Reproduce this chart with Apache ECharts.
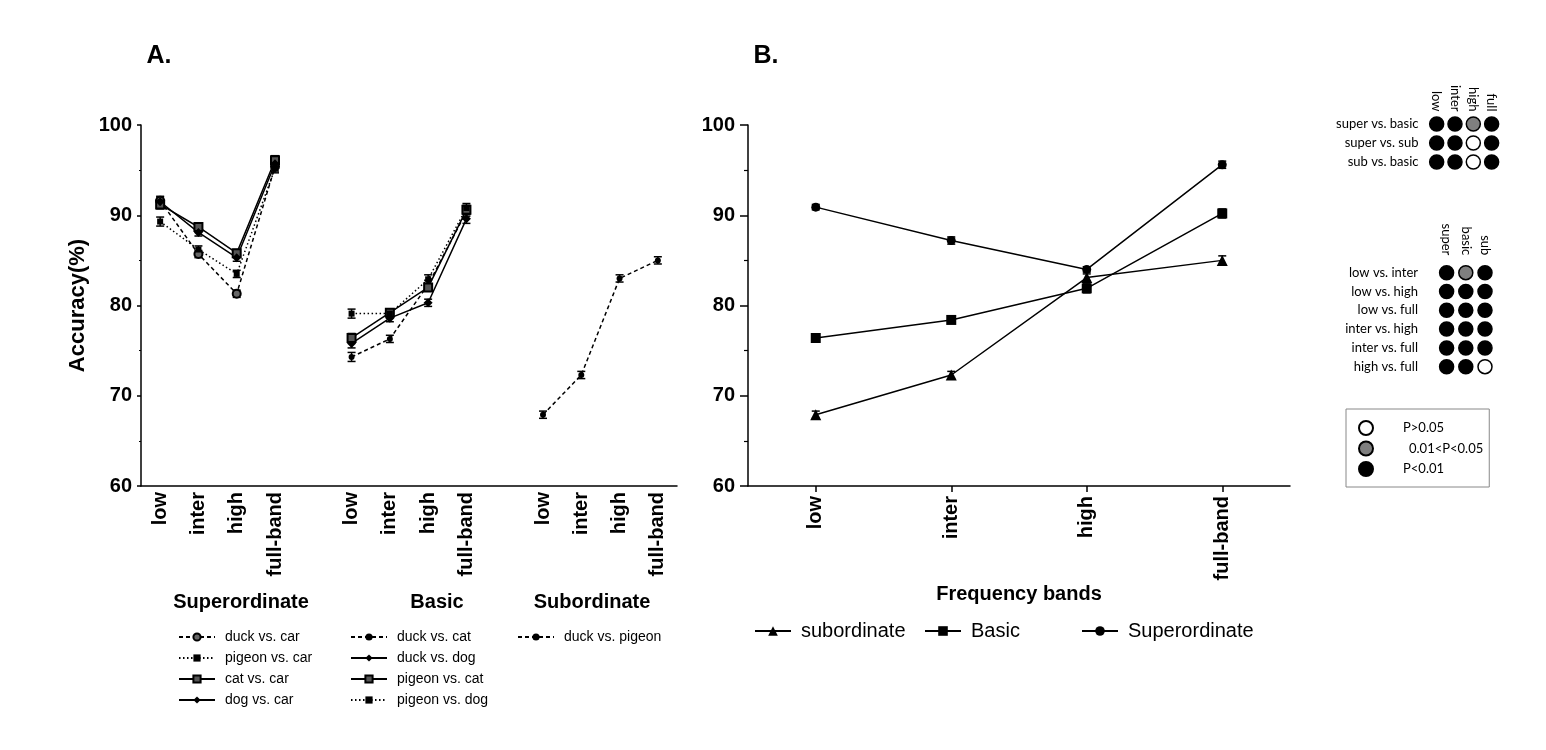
<!DOCTYPE html>
<html>
<head>
<meta charset="utf-8">
<script src="https://cdn.jsdelivr.net/npm/echarts@6/dist/echarts.min.js"></script>
<style>
html, body { margin: 0; padding: 0; background: #fff; }
#main { width: 1546px; height: 750px; }
</style>
</head>
<body>
<div id="main"></div>
<script>
/** data **/
var bands = ['low', 'inter', 'high', 'full-band'];
var groups = ['Superordinate', 'Basic', 'Subordinate'];

// A. superordinate pairs
var duckCar = [91.6, 85.7, 81.3, 95.4];
var pigeonCar = [89.3, 86.2, 83.5, 95.2];
var catCar = [91.2, 88.7, 85.8, 96.1];
var dogCar = [91.5, 88.1, 85.3, 95.7];
// A. basic pairs
var duckCat = [74.3, 76.3, 82.3, 90.4];
var duckDog = [75.8, 78.6, 80.3, 89.6];
var pigeonCat = [76.4, 79.2, 82.0, 90.6];
var pigeonDog = [79.1, 79.1, 82.9, 90.8];
// A. subordinate pair
var duckPigeon = [67.9, 72.3, 83.0, 85.0];

// A. error (sem)
var duckCarErr = [0.5, 0.4, 0.4, 0.5];
var pigeonCarErr = [0.5, 0.4, 0.4, 0.5];
var catCarErr = [0.5, 0.4, 0.4, 0.5];
var dogCarErr = [0.5, 0.4, 0.4, 0.5];
var duckCatErr = [0.5, 0.4, 0.5, 0.5];
var duckDogErr = [0.5, 0.4, 0.4, 0.5];
var pigeonCatErr = [0.5, 0.4, 0.4, 0.5];
var pigeonDogErr = [0.5, 0.4, 0.5, 0.5];
var duckPigeonErr = [0.4, 0.4, 0.4, 0.4];

// B. mean per level
var superB = [90.9, 87.2, 84.0, 95.6];
var basicB = [76.4, 78.4, 81.9, 90.2];
var subB = [67.9, 72.3, 83.1, 85.0];
var superBErr = [0.3, 0.4, 0.3, 0.4];
var basicBErr = [0.4, 0.3, 0.5, 0.5];
var subBErr = [0.4, 0.4, 0.4, 0.5];

// significance tables: 2 = P<0.01, 1 = 0.01<P<0.05, 0 = P>0.05
var sigNames = ['P>0.05', '0.01<P<0.05', 'P<0.01'];
var sigColors = ['#ffffff', '#7f7f7f', '#000000'];
var levelCols = ['low', 'inter', 'high', 'full'];
var levelRows = ['super vs. basic', 'super vs. sub', 'sub vs. basic'];
var levelSig = [[2, 2, 1, 2], [2, 2, 0, 2], [2, 2, 0, 2]];
var bandCols = ['super', 'basic', 'sub'];
var bandRows = ['low vs. inter', 'low vs. high', 'low vs. full', 'inter vs. high', 'inter vs. full', 'high vs. full'];
var bandSig = [[2, 1, 2], [2, 2, 2], [2, 2, 2], [2, 2, 2], [2, 2, 2], [2, 2, 0]];

var FONT = '"Liberation Sans", Arial, sans-serif';
var FONT2 = 'Lato, "Liberation Sans", sans-serif';

/** helpers **/
// panel A uses 14 slots: 4 bands, gap, 4 bands, gap, 4 bands
var catsA = [];
groups.forEach(function(g, gi) {
  bands.forEach(function(b) { catsA.push(b); });
  if (gi < 2) catsA.push(gi ? '  ' : ' ');
});

function slotA(vals, g) {
  var d = [];
  for (var i = 0; i < 14; i++) d.push('-');
  vals.forEach(function(v, i) { d[g * 5 + i] = v; });
  return d;
}

function errData(vals, err, off) {
  return vals.map(function(v, i) { return [off + i, v - err[i], v + err[i]]; });
}

function errSeries(ax, data) {
  return {
    type: 'custom',
    xAxisIndex: ax,
    yAxisIndex: ax,
    silent: true,
    z: 3,
    renderItem: function(params, api) {
      var x = api.value(0);
      var lo = api.coord([x, api.value(1)]);
      var hi = api.coord([x, api.value(2)]);
      var w = 4;
      var st = { stroke: '#000', lineWidth: 1.5 };
      return {
        type: 'group',
        children: [
          { type: 'line', shape: { x1: lo[0], y1: lo[1], x2: hi[0], y2: hi[1] }, style: st },
          { type: 'line', shape: { x1: lo[0] - w, y1: lo[1], x2: lo[0] + w, y2: lo[1] }, style: st },
          { type: 'line', shape: { x1: hi[0] - w, y1: hi[1], x2: hi[0] + w, y2: hi[1] }, style: st }
        ]
      };
    },
    data: data
  };
}

var DASH = [4, 3];
var DOT = [1.5, 2.5];

function lineA(name, vals, g, dash, symbol, size, fill, bw) {
  return {
    name: name,
    type: 'line',
    xAxisIndex: 0,
    yAxisIndex: 0,
    data: slotA(vals, g),
    symbol: symbol,
    symbolSize: size,
    lineStyle: { color: '#000', width: 1.5, type: dash },
    itemStyle: { color: fill, borderColor: '#000', borderWidth: bw },
    z: 4
  };
}

function lineB(name, vals, symbol, size) {
  return {
    name: name,
    type: 'line',
    xAxisIndex: 1,
    yAxisIndex: 1,
    data: vals,
    symbol: symbol,
    symbolSize: size,
    lineStyle: { color: '#000', width: 1.5 },
    itemStyle: { color: '#000' },
    z: 4
  };
}

function sigSeries(table, ax) {
  var out = [];
  sigNames.forEach(function(n, lvl) {
    var pts = [];
    table.forEach(function(row, r) {
      row.forEach(function(s, c) { if (s === lvl) pts.push([c, r]); });
    });
    out.push({
      name: n,
      type: 'scatter',
      xAxisIndex: ax,
      yAxisIndex: ax,
      symbol: 'circle',
      symbolSize: 14,
      itemStyle: { color: sigColors[lvl], borderColor: '#000', borderWidth: 1.5, opacity: 1 },
      data: pts
    });
  });
  return out;
}

/** series **/
var series = [
  lineA('duck vs. car', duckCar, 0, DASH, 'circle', 8, '#666', 2),
  lineA('pigeon vs. car', pigeonCar, 0, DOT, 'rect', 6, '#000', 0),
  lineA('cat vs. car', catCar, 0, 'solid', 'rect', 8, '#555', 2),
  lineA('dog vs. car', dogCar, 0, 'solid', 'diamond', 9, '#000', 0),
  lineA('duck vs. cat', duckCat, 1, DASH, 'circle', 6, '#000', 0),
  lineA('duck vs. dog', duckDog, 1, 'solid', 'diamond', 9, '#000', 0),
  lineA('pigeon vs. cat', pigeonCat, 1, 'solid', 'rect', 8, '#555', 2),
  lineA('pigeon vs. dog', pigeonDog, 1, DOT, 'rect', 6, '#000', 0),
  lineA('duck vs. pigeon', duckPigeon, 2, DASH, 'circle', 6, '#000', 0),
  errSeries(0, [].concat(
    errData(duckCar, duckCarErr, 0), errData(pigeonCar, pigeonCarErr, 0),
    errData(catCar, catCarErr, 0), errData(dogCar, dogCarErr, 0),
    errData(duckCat, duckCatErr, 5), errData(duckDog, duckDogErr, 5),
    errData(pigeonCat, pigeonCatErr, 5), errData(pigeonDog, pigeonDogErr, 5),
    errData(duckPigeon, duckPigeonErr, 10))),
  lineB('subordinate', subB, 'triangle', 11),
  lineB('Basic', basicB, 'rect', 10),
  lineB('Superordinate', superB, 'circle', 9),
  errSeries(1, [].concat(
    errData(subB, subBErr, 0), errData(basicB, basicBErr, 0), errData(superB, superBErr, 0)))
].concat(sigSeries(levelSig, 2), sigSeries(bandSig, 3));

/** axes **/
function valAxis(gi, tickLen, minorLen, name) {
  return {
    type: 'value',
    gridIndex: gi,
    min: 60,
    max: 100,
    interval: 10,
    name: name,
    nameLocation: 'middle',
    nameGap: 52,
    nameTextStyle: { fontFamily: FONT, fontWeight: 'bold', fontSize: 22, color: '#000' },
    axisLine: { show: true, lineStyle: { color: '#000', width: 1.5 } },
    axisTick: { show: true, length: tickLen, lineStyle: { color: '#000', width: 1.5 } },
    minorTick: { show: true, splitNumber: 2, length: minorLen, lineStyle: { color: '#000', width: 1.2 } },
    splitLine: { show: false },
    axisLabel: { fontFamily: FONT, fontWeight: 'bold', fontSize: 20, color: '#000', margin: tickLen + 5 }
  };
}

function tableX(gi, cols, margin) {
  return {
    type: 'category',
    gridIndex: gi,
    position: 'top',
    data: cols,
    axisLine: { show: false },
    axisTick: { show: false },
    axisLabel: { rotate: 90, interval: 0, fontFamily: FONT2, fontSize: 13, color: '#000', margin: margin }
  };
}

function tableY(gi, rows, margin) {
  return {
    type: 'category',
    gridIndex: gi,
    inverse: true,
    data: rows,
    axisLine: { show: false },
    axisTick: { show: false },
    axisLabel: { interval: 0, fontFamily: FONT2, fontSize: 13, color: '#000', margin: margin }
  };
}

function title(text, x, y, size) {
  return {
    text: text,
    left: x,
    top: y,
    textAlign: 'center',
    padding: 0,
    textStyle: { fontFamily: FONT, fontWeight: 'bold', fontSize: size, color: '#000' }
  };
}

function legendA(names, x) {
  return {
    left: x,
    top: 630,
    orient: 'vertical',
    padding: 0,
    itemWidth: 36,
    itemHeight: 9,
    itemGap: 7,
    textStyle: { fontFamily: FONT, fontSize: 14, color: '#000', padding: [0, 0, 0, 5] },
    data: names
  };
}

function legendB(name, x) {
  return {
    left: x,
    top: 621,
    padding: 0,
    itemWidth: 36,
    itemHeight: 12,
    textStyle: { fontFamily: FONT, fontSize: 20, lineHeight: 20, color: '#000', padding: [0, 0, 0, 5] },
    data: [name]
  };
}

var option = {
  animation: false,
  backgroundColor: '#fff',
  title: [
    title('A.', 159, 44, 25),
    title('B.', 766, 44, 25),
    title(groups[0], 241, 592, 20),
    title(groups[1], 437, 592, 20),
    title(groups[2], 592, 592, 20)
  ],
  legend: [
    legendA(['duck vs. car', 'pigeon vs. car', 'cat vs. car', 'dog vs. car'], 178),
    legendA(['duck vs. cat', 'duck vs. dog', 'pigeon vs. cat', 'pigeon vs. dog'], 350),
    legendA(['duck vs. pigeon'], 517),
    legendB('subordinate', 754),
    legendB('Basic', 924),
    legendB('Superordinate', 1081),
    {
      left: 1346,
      top: 409,
      orient: 'vertical',
      padding: [11, 6, 10, 12],
      borderColor: '#888',
      borderWidth: 1,
      itemWidth: 14,
      itemHeight: 14,
      itemGap: 4.5,
      textStyle: { fontFamily: FONT2, fontSize: 13, color: '#000', padding: [0, 0, 0, 25] },
      data: [
        { name: sigNames[0] },
        { name: sigNames[1], textStyle: { padding: [0, 0, 0, 31] } },
        { name: sigNames[2] }
      ]
    }
  ],
  grid: [
    { left: 141, top: 125, width: 536, height: 361 },
    { left: 748, top: 125, width: 542, height: 361 },
    { left: 1427.5, top: 114.5, width: 73.3, height: 57 },
    { left: 1437, top: 263.3, width: 57.6, height: 112.8 }
  ],
  xAxis: [
    {
      type: 'category',
      gridIndex: 0,
      data: catsA,
      axisLine: { show: true, lineStyle: { color: '#000', width: 1.5 } },
      axisTick: { show: false },
      axisLabel: { rotate: 90, interval: 0, fontFamily: FONT, fontWeight: 'bold', fontSize: 20, color: '#000', margin: 6 }
    },
    {
      type: 'category',
      gridIndex: 1,
      data: bands,
      name: 'Frequency bands',
      nameLocation: 'middle',
      nameGap: 93,
      nameTextStyle: { fontFamily: FONT, fontWeight: 'bold', fontSize: 20, color: '#000' },
      axisLine: { show: true, lineStyle: { color: '#000', width: 1.5 } },
      axisTick: { show: true, alignWithLabel: true, length: 6, lineStyle: { color: '#000', width: 1.5 } },
      axisLabel: { rotate: 90, interval: 0, fontFamily: FONT, fontWeight: 'bold', fontSize: 20, color: '#000', margin: 10 }
    },
    tableX(2, levelCols, 3),
    tableX(3, bandCols, 8)
  ],
  yAxis: [
    valAxis(0, 4, 2, 'Accuracy(%)'),
    valAxis(1, 8, 4, ''),
    tableY(2, levelRows, 9),
    tableY(3, bandRows, 19)
  ],
  series: series
};

var chart = echarts.init(document.getElementById('main'));
chart.setOption(option);
</script>
</body>
</html>
